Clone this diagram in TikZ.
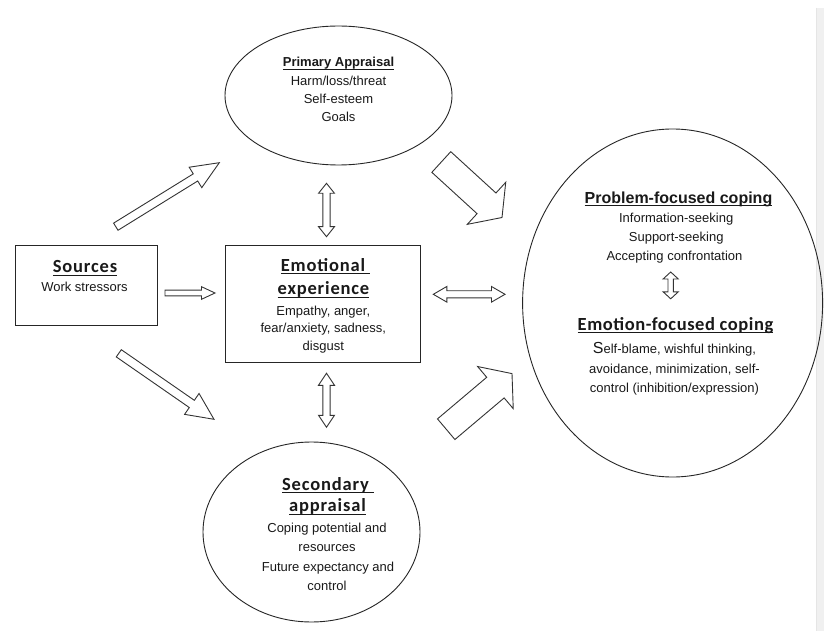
\documentclass[tikz,border=0pt]{standalone}
\usepackage{fontspec}
\setmainfont{Liberation Sans}
\newfontfamily\calib{Carlito}[LetterSpace=4.5]
\newfontfamily\calibE{Carlito}[LetterSpace=3]
\usetikzlibrary{calc,shapes.geometric}
\newcommand\ulx[1]{\setbox0\hbox{#1}\rlap{\rule[-2.8bp]{\wd0}{0.8bp}}\box0}
% block arrow: tail, tip, shaft half width, head half width, head length
\newcommand\fatarrow[5]{%
  \coordinate (fah) at ($(#2)!#5!(#1)$);
  \draw[blk] ($(#1)!#3!90:(#2)$) -- ($(fah)!#3!-90:(#1)$) -- ($(fah)!#4!-90:(#1)$) -- (#2)
    -- ($(fah)!#4!90:(#1)$) -- ($(fah)!#3!90:(#1)$) -- ($(#1)!#3!-90:(#2)$) -- cycle;}
% double block arrow: end, end, shaft half width, head half width, head length
\newcommand\dblarrow[5]{%
  \coordinate (dah1) at ($(#1)!#5!(#2)$);
  \coordinate (dah2) at ($(#2)!#5!(#1)$);
  \draw[blk] (#1) -- ($(dah1)!#4!90:(#2)$) -- ($(dah1)!#3!90:(#2)$) -- ($(dah2)!#3!-90:(#1)$)
    -- ($(dah2)!#4!-90:(#1)$) -- (#2) -- ($(dah2)!#4!90:(#1)$) -- ($(dah2)!#3!90:(#1)$)
    -- ($(dah1)!#3!-90:(#2)$) -- ($(dah1)!#4!-90:(#2)$) -- cycle;}
\begin{document}
\begin{tikzpicture}[x=1bp,y=-1bp,
  shp/.style={draw=black!85, line width=0.9bp, inner sep=0pt},
  blk/.style={draw=black!80, line width=0.9bp, fill=white, line join=miter},
  txt/.style={anchor=base, inner sep=0pt, text=black!90, font=\fontsize{13bp}{15bp}\selectfont},
  hdA/.style={txt, font=\fontsize{13bp}{15bp}\selectfont\bfseries},
  hdP/.style={txt, font=\fontsize{16bp}{19bp}\selectfont\bfseries},
  hdC/.style={txt, font={\calib\bfseries\fontsize{18.5bp}{22bp}\selectfont}},
  hdE/.style={txt, font={\calibE\bfseries\fontsize{18.5bp}{22bp}\selectfont}},
]
\fill[white] (0,0) rectangle (824,631);
\useasboundingbox (0,0) rectangle (824,631);
% grey page strip at the right
\fill[black!6] (816,8) rectangle (824,631);
\draw[black!10, line width=0.8bp] (816,8) -- (816,631);

% shapes
\node[shp, ellipse, minimum width=227bp, minimum height=139bp] (primary) at (338.5,95.5) {};
\node[shp, rectangle, minimum width=142bp, minimum height=80bp] (sources) at (86,285) {};
\node[shp, rectangle, minimum width=195bp, minimum height=117bp] (emotional) at (323.3,304.3) {};
\node[shp, ellipse, minimum width=217bp, minimum height=180bp] (secondary) at (311.5,532) {};
\node[shp, ellipse, minimum width=300bp, minimum height=348bp] (coping) at (672.6,303) {};

% primary appraisal text
\node[hdA] (p0) at (338.5,67) {\ulx{Primary Appraisal}};
\node[txt] (p1) at (338.5,86) {Harm/loss/threat};
\node[txt] (p2) at (338.5,104) {Self-esteem};
\node[txt] (p3) at (338.5,122) {Goals};

% sources text
\node[hdC] (s0) at (85,272.5) {\ulx{Sources}};
\node[txt] (s1) at (84.5,291.5) {Work stressors};

% emotional experience text
\node[hdC] (e0) at (325.5,271) {\ulx{Emotional\ }};
\node[hdC] (e1) at (323.5,294.5) {\ulx{experience}};
\node[txt] (e2) at (323.3,315) {Empathy, anger,};
\node[txt] (e3) at (323.3,332.5) {fear/anxiety, sadness,};
\node[txt] (e4) at (323.3,350) {disgust};

% secondary appraisal text
\node[hdC] (c0) at (328,490) {\ulx{Secondary\ }};
\node[hdC] (c1) at (327.5,511.7) {\ulx{appraisal}};
\node[txt] (c2) at (327,532.7) {Coping potential and};
\node[txt] (c3) at (327,551.7) {resources};
\node[txt] (c4) at (328,571) {Future expectancy and};
\node[txt] (c5) at (327,590) {control};

% coping text
\node[hdP] (r0) at (678.5,203.3) {\ulx{Problem-focused coping}};
\node[txt] (r1) at (676.2,222.7) {Information-seeking};
\node[txt] (r2) at (676.2,241.7) {Support-seeking};
\node[txt] (r3) at (674.5,260.5) {Accepting confrontation};
\node[hdE] (r4) at (675.5,330) {\ulx{Emotion-focused coping}};
\node[txt] (r5) at (674.5,353.3) {{\fontsize{16bp}{16bp}\selectfont S}elf-blame, wishful thinking,};
\node[txt] (r6) at (674.5,373.3) {avoidance, minimization, self-};
\node[txt] (r7) at (674.5,392.7) {control (inhibition/expression)};

% arrow end points
\coordinate (a1t) at (115.8,226.7); \coordinate (a1h) at (219.3,162.7);
\coordinate (a2t) at (165,293);     \coordinate (a2h) at (215,293);
\coordinate (a3t) at (118.8,353.3); \coordinate (a3h) at (214,419.3);
\coordinate (a7t) at (441.3,162);   \coordinate (a7h) at (502,217.5);
\coordinate (a8t) at (446.2,429.2); \coordinate (a8h) at (512,373.6);
\coordinate (d4a) at (326.5,183.3); \coordinate (d4b) at (326.5,236.7);
\coordinate (d5a) at (326.5,373.3); \coordinate (d5b) at (326.5,427.3);
\coordinate (d6a) at (433.3,294.3); \coordinate (d6b) at (505,294.3);
\coordinate (d7a) at (670.7,272);   \coordinate (d7b) at (670.7,298.8);

% block arrows
\fatarrow{a1t}{a1h}{4.2bp}{12bp}{28bp}
\fatarrow{a2t}{a2h}{2.9bp}{6.3bp}{13.5bp}
\fatarrow{a3t}{a3h}{4.4bp}{12.7bp}{27bp}
\fatarrow{a7t}{a7h}{14bp}{28.5bp}{21bp}
\fatarrow{a8t}{a8h}{13.5bp}{27.6bp}{21.7bp}
\dblarrow{d4a}{d4b}{3.6bp}{8bp}{10bp}
\dblarrow{d5a}{d5b}{3.6bp}{8bp}{12bp}
\dblarrow{d6a}{d6b}{3.6bp}{7.8bp}{13.5bp}
\dblarrow{d7a}{d7b}{2.7bp}{7.6bp}{7bp}
\end{tikzpicture}
\end{document}
